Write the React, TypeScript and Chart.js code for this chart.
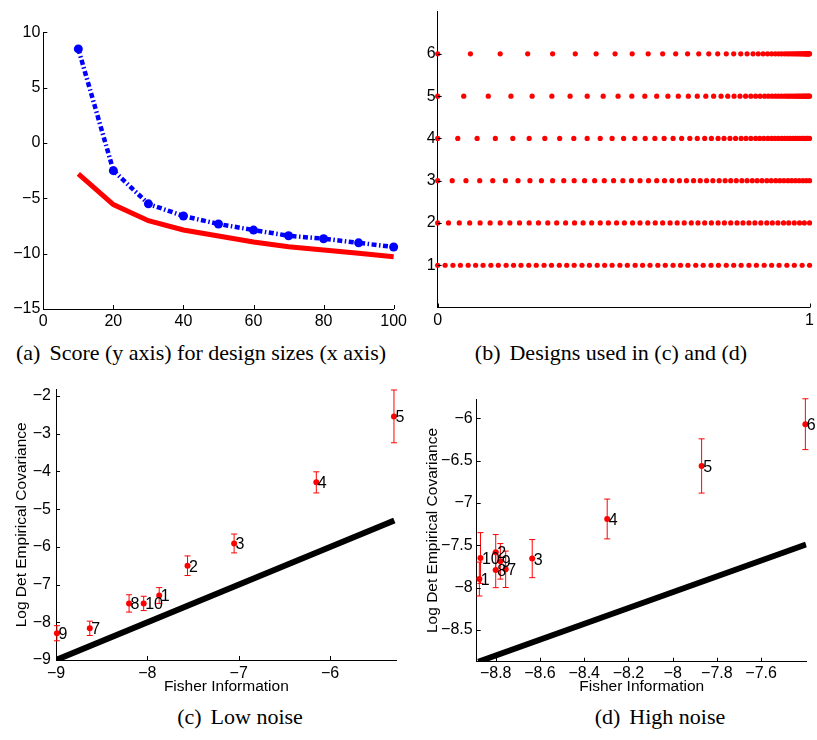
import React, { useEffect, useRef } from "react";
import { Chart, registerables } from "chart.js";

Chart.register(...registerables);

const SANS = "'Liberation Sans', Arial, Helvetica, sans-serif";
const SERIF = "'Liberation Serif', 'Times New Roman', Times, serif";

// ---------- Panel (a): score vs design size ----------
const designSizes = [10, 20, 30, 40, 50, 60, 70, 80, 90, 100];
const scoreBlue = [8.5, -2.5, -5.5, -6.6, -7.32, -7.87, -8.38, -8.65, -9.02, -9.4];
const scoreRed = [-2.8, -5.57, -7.02, -7.86, -8.4, -8.95, -9.37, -9.67, -9.97, -10.27];
const scoreXTicks = [0, 20, 40, 60, 80, 100];
const scoreYTicks = [-15, -10, -5, 0, 5, 10];

// ---------- Panel (b): designs ----------
const designRows = [1, 2, 3, 4, 5, 6];
const design1 = [0, 0.02, 0.041, 0.061, 0.082, 0.102, 0.122, 0.143, 0.163, 0.184, 0.204, 0.224, 0.245, 0.265, 0.286, 0.306, 0.327, 0.347, 0.367, 0.388, 0.408, 0.429, 0.449, 0.469, 0.49, 0.51, 0.531, 0.551, 0.571, 0.592, 0.612, 0.633, 0.653, 0.673, 0.694, 0.714, 0.735, 0.755, 0.776, 0.796, 0.816, 0.837, 0.857, 0.878, 0.898, 0.918, 0.939, 0.959, 0.98, 1];
const design2 = [0, 0.029, 0.058, 0.086, 0.114, 0.141, 0.168, 0.194, 0.22, 0.246, 0.271, 0.296, 0.32, 0.344, 0.368, 0.391, 0.414, 0.437, 0.459, 0.481, 0.502, 0.524, 0.544, 0.565, 0.585, 0.605, 0.625, 0.644, 0.663, 0.682, 0.7, 0.718, 0.736, 0.754, 0.771, 0.788, 0.805, 0.821, 0.837, 0.853, 0.869, 0.885, 0.9, 0.915, 0.93, 0.944, 0.959, 0.973, 0.986, 1];
const design3 = [0, 0.039, 0.076, 0.113, 0.148, 0.182, 0.216, 0.248, 0.279, 0.309, 0.339, 0.367, 0.395, 0.422, 0.448, 0.473, 0.498, 0.521, 0.544, 0.567, 0.589, 0.61, 0.63, 0.65, 0.669, 0.688, 0.706, 0.723, 0.74, 0.757, 0.773, 0.788, 0.803, 0.818, 0.832, 0.846, 0.859, 0.872, 0.885, 0.897, 0.909, 0.92, 0.931, 0.942, 0.952, 0.962, 0.972, 0.982, 0.991, 1];
const design4 = [0, 0.054, 0.106, 0.155, 0.202, 0.246, 0.288, 0.328, 0.366, 0.402, 0.437, 0.469, 0.5, 0.53, 0.558, 0.584, 0.609, 0.633, 0.656, 0.678, 0.698, 0.718, 0.736, 0.754, 0.77, 0.786, 0.801, 0.816, 0.829, 0.842, 0.855, 0.866, 0.877, 0.888, 0.898, 0.907, 0.916, 0.925, 0.933, 0.941, 0.948, 0.955, 0.962, 0.968, 0.974, 0.98, 0.985, 0.991, 0.995, 1];
const design5 = [0, 0.07, 0.136, 0.197, 0.254, 0.307, 0.356, 0.402, 0.445, 0.485, 0.522, 0.557, 0.589, 0.619, 0.647, 0.674, 0.698, 0.721, 0.742, 0.762, 0.78, 0.797, 0.813, 0.828, 0.842, 0.855, 0.867, 0.879, 0.889, 0.899, 0.908, 0.916, 0.924, 0.932, 0.939, 0.945, 0.951, 0.957, 0.962, 0.967, 0.971, 0.975, 0.979, 0.983, 0.986, 0.989, 0.992, 0.995, 0.998, 1];
const design6 = [0, 0.088, 0.168, 0.242, 0.309, 0.37, 0.426, 0.477, 0.523, 0.566, 0.605, 0.64, 0.672, 0.702, 0.729, 0.753, 0.776, 0.796, 0.815, 0.832, 0.848, 0.862, 0.875, 0.887, 0.898, 0.908, 0.917, 0.925, 0.933, 0.94, 0.946, 0.952, 0.957, 0.962, 0.966, 0.97, 0.974, 0.977, 0.98, 0.983, 0.985, 0.988, 0.99, 0.992, 0.993, 0.995, 0.996, 0.998, 0.999, 1];
const designXTicks = [0, 1];
const designYTicks = [1, 2, 3, 4, 5, 6];

// ---------- Panel (c): low noise ----------
const lowLabels = ["9", "7", "8", "10", "1", "2", "3", "4", "5"];
const lowFisher = [-8.99, -8.63, -8.2, -8.04, -7.87, -7.56, -7.05, -6.15, -5.3];
const lowCov = [-8.29, -8.16, -7.5, -7.5, -7.29, -6.5, -5.91, -4.29, -2.54];
const lowErr = [0.2, 0.19, 0.23, 0.19, 0.21, 0.26, 0.25, 0.28, 0.7];
const lowLineX = [-9, -5.296];
const lowLineY = [-9, -5.3];
const lowXTicks = [-9, -8, -7, -6];
const lowYTicks = [-9, -8, -7, -6, -5, -4, -3, -2];

// ---------- Panel (d): high noise ----------
const highLabels = ["1", "2", "3", "4", "5", "6", "7", "8", "9", "10"];
const highFisher = [-8.874, -8.8, -8.635, -8.296, -7.869, -7.4, -8.755, -8.8, -8.779, -8.869];
const highCov = [-7.898, -7.583, -7.657, -7.189, -6.563, -6.07, -7.783, -7.79, -7.689, -7.65];
const highErr = [0.2, 0.21, 0.225, 0.235, 0.32, 0.3, 0.215, 0.21, 0.21, 0.3];
const highLineX = [-8.879, -7.397];
const highLineY = [-8.874, -7.49];
const highXTicks = [-8.8, -8.6, -8.4, -8.2, -8, -7.8, -7.6];
const highYTicks = [-8.5, -8, -7.5, -7, -6.5, -6];

const fmt = (v: number) => (v < 0 ? "\u2212" + String(Math.abs(v)) : String(v));

type AxisOpt = {
  min: number;
  max: number;
  ticks: number[];
  size: number;
  pad: number;
  title?: string;
  titlePad?: number;
  horizontal: boolean;
};

function axis(o: AxisOpt) {
  const tickFont = { family: SANS, size: 16 };
  const titleFont = { family: SANS, size: 15.5 };
  return {
    type: "linear",
    position: o.horizontal ? "bottom" : "left",
    min: o.min,
    max: o.max,
    afterBuildTicks: (s: any) => {
      s.ticks = o.ticks.map((v) => ({ value: v }));
    },
    afterFit: (s: any) => {
      if (o.horizontal) s.height = o.size;
      else s.width = o.size;
    },
    ticks: {
      color: "#000",
      font: tickFont,
      padding: o.pad,
      autoSkip: false,
      maxRotation: 0,
      minRotation: 0,
      callback: (v: any) => fmt(Number(v)),
    },
    grid: { display: false, drawTicks: false },
    border: { display: true, color: "#000", width: 1 },
    title: o.title
      ? {
          display: true,
          text: o.title,
          color: "#000",
          font: titleFont,
          padding: o.horizontal ? { top: 0, bottom: o.titlePad ?? 0 } : { top: o.titlePad ?? 0, bottom: 0 },
        }
      : { display: false },
  };
}

function inwardTicks(len: number) {
  return {
    id: "inwardTicks",
    afterDraw(chart: any) {
      const { ctx, chartArea } = chart;
      const xs = chart.scales.x;
      const ys = chart.scales.y;
      ctx.save();
      ctx.strokeStyle = "#000";
      ctx.lineWidth = 1;
      ctx.beginPath();
      xs.ticks.forEach((t: any) => {
        const px = Math.round(xs.getPixelForValue(t.value)) + 0.5;
        ctx.moveTo(px, chartArea.bottom);
        ctx.lineTo(px, chartArea.bottom - len);
      });
      ys.ticks.forEach((t: any) => {
        const py = Math.round(ys.getPixelForValue(t.value)) + 0.5;
        ctx.moveTo(chartArea.left, py);
        ctx.lineTo(chartArea.left + len, py);
      });
      ctx.stroke();
      ctx.restore();
    },
  };
}

function errorAndLabels(xs: number[], ys: number[], errs: number[], labels: string[]) {
  return {
    id: "errorAndLabels",
    beforeDatasetsDraw(chart: any) {
      const { ctx } = chart;
      const sx = chart.scales.x;
      const sy = chart.scales.y;
      ctx.save();
      ctx.strokeStyle = "#ff0000";
      ctx.lineWidth = 1;
      ctx.beginPath();
      xs.forEach((x, i) => {
        const px = sx.getPixelForValue(x);
        const pTop = sy.getPixelForValue(ys[i] + errs[i]);
        const pBot = sy.getPixelForValue(ys[i] - errs[i]);
        ctx.moveTo(px, pTop);
        ctx.lineTo(px, pBot);
        ctx.moveTo(px - 3, pTop);
        ctx.lineTo(px + 3, pTop);
        ctx.moveTo(px - 3, pBot);
        ctx.lineTo(px + 3, pBot);
      });
      ctx.stroke();
      ctx.restore();
    },
    afterDatasetsDraw(chart: any) {
      const { ctx } = chart;
      const sx = chart.scales.x;
      const sy = chart.scales.y;
      ctx.save();
      ctx.fillStyle = "#000";
      ctx.font = `16px ${SANS}`;
      ctx.textAlign = "left";
      ctx.textBaseline = "middle";
      xs.forEach((x, i) => {
        ctx.fillText(labels[i], sx.getPixelForValue(x) + 1.5, sy.getPixelForValue(ys[i]) + 1.5);
      });
      ctx.restore();
    },
  };
}

const baseOptions = (padding: any) => ({
  responsive: false,
  maintainAspectRatio: false,
  animation: false,
  devicePixelRatio: 1,
  layout: { padding },
  plugins: { legend: { display: false }, tooltip: { enabled: false }, title: { display: false } },
  elements: { line: { tension: 0 } },
});

function configA() {
  return {
    type: "scatter",
    data: {
      datasets: [
        {
          data: designSizes.map((x, i) => ({ x, y: scoreRed[i] })),
          showLine: true,
          borderColor: "#ff0000",
          borderWidth: 5,
          pointRadius: 0,
          clip: false,
        },
        {
          data: designSizes.map((x, i) => ({ x, y: scoreBlue[i] })),
          showLine: true,
          borderColor: "#0000ff",
          borderWidth: 4.5,
          borderDash: [5, 2.5, 1.5, 2.5],
          pointRadius: 4.5,
          pointBorderWidth: 0,
          pointBackgroundColor: "#0000ff",
          pointBorderColor: "#0000ff",
          clip: false,
        },
      ],
    },
    options: {
      ...baseOptions({ left: 0, right: 15, top: 32.3, bottom: 0 }),
      scales: {
        x: axis({ min: 0, max: 100, ticks: scoreXTicks, size: 26, pad: 3, horizontal: true }),
        y: axis({ min: -15, max: 10, ticks: scoreYTicks, size: 43.3, pad: 3, horizontal: false }),
      },
    },
    plugins: [inwardTicks(4)],
  };
}

function configB() {
  const rows = [design1, design2, design3, design4, design5, design6];
  return {
    type: "scatter",
    data: {
      datasets: rows.map((row, k) => ({
        data: row.map((x) => ({ x, y: designRows[k] })),
        showLine: false,
        pointRadius: 2.6,
        pointBorderWidth: 0,
        pointBackgroundColor: "#ff0000",
        pointBorderColor: "#ff0000",
        clip: false,
      })),
    },
    options: {
      ...baseOptions({ left: 0, right: 2.7, top: 11, bottom: 0 }),
      scales: {
        x: axis({ min: 0, max: 1, ticks: designXTicks, size: 27.5, pad: 3, horizontal: true }),
        y: axis({ min: 0, max: 7, ticks: designYTicks, size: 27.7, pad: 2, horizontal: false }),
      },
    },
    plugins: [inwardTicks(4)],
  };
}

function configScatter(
  fx: number[], fy: number[], errs: number[], labels: string[],
  lx: number[], ly: number[],
  xr: [number, number], yr: [number, number], xt: number[], yt: number[],
  padding: any, xSize: number, ySize: number, xPad: number, yPad: number, yTitlePad: number
) {
  return {
    type: "scatter",
    data: {
      datasets: [
        {
          data: lx.map((x, i) => ({ x, y: ly[i] })),
          showLine: true,
          borderColor: "#000",
          borderWidth: 6,
          pointRadius: 0,
          borderCapStyle: "butt",
          clip: 0,
        },
        {
          data: fx.map((x, i) => ({ x, y: fy[i] })),
          showLine: false,
          pointRadius: 3,
          pointBorderWidth: 0,
          pointBackgroundColor: "#ff0000",
          pointBorderColor: "#ff0000",
          clip: false,
        },
      ],
    },
    options: {
      ...baseOptions(padding),
      scales: {
        x: axis({ min: xr[0], max: xr[1], ticks: xt, size: xSize, pad: xPad, horizontal: true, title: "Fisher Information", titlePad: 4 }),
        y: axis({ min: yr[0], max: yr[1], ticks: yt, size: ySize, pad: yPad, horizontal: false, title: "Log Det Empirical Covariance", titlePad: yTitlePad }),
      },
    },
    plugins: [inwardTicks(4), errorAndLabels(fx, fy, errs, labels)],
  };
}

function configC() {
  return configScatter(
    lowFisher, lowCov, lowErr, lowLabels, lowLineX, lowLineY,
    [-9, -5.27], [-9, -1.83], lowXTicks, lowYTicks,
    { left: 0, right: 13.3, top: 14.3, bottom: 0 }, 40, 56, 3.5, 5, 12.2
  );
}

function configD() {
  return configScatter(
    highFisher, highCov, highErr, highLabels, highLineX, highLineY,
    [-8.886, -7.394], [-8.874, -5.776], highXTicks, highYTicks,
    { left: 0, right: 10.3, top: 24.3, bottom: 0 }, 38.3, 66.7, 2, 4, 13.8
  );
}

type Box = { left: number; top: number; width: number; height: number };

function Panel({ box, make }: { box: Box; make: () => any }) {
  const ref = useRef<HTMLCanvasElement>(null);
  useEffect(() => {
    const chart = new Chart(ref.current as HTMLCanvasElement, make() as any);
    return () => chart.destroy();
  }, []);
  return (
    <canvas
      ref={ref}
      width={box.width}
      height={box.height}
      style={{ position: "absolute", left: box.left, top: box.top, width: box.width, height: box.height }}
    />
  );
}

function Caption({ cx, cy, label, text }: { cx: number; cy: number; label: string; text: string }) {
  return (
    <div
      style={{
        position: "absolute",
        left: cx - 250,
        width: 500,
        top: cy - 15,
        height: 30,
        lineHeight: "30px",
        textAlign: "center",
        fontFamily: SERIF,
        fontSize: 22,
        color: "#000",
        whiteSpace: "nowrap",
      }}
    >
      <span style={{ marginRight: 9 }}>{label}</span>
      {text}
    </div>
  );
}

export default function App() {
  return (
    <div style={{ position: "absolute", left: 0, top: 0, width: 817, height: 740, background: "#fff", overflow: "hidden" }}>
      <Panel box={{ left: 0, top: 0, width: 410, height: 335 }} make={configA} />
      <Panel box={{ left: 410, top: 0, width: 407, height: 335 }} make={configB} />
      <Panel box={{ left: 0, top: 375, width: 410, height: 325 }} make={configC} />
      <Panel box={{ left: 410, top: 375, width: 407, height: 325 }} make={configD} />
      <Caption cx={201} cy={353} label="(a)" text="Score (y axis) for design sizes (x axis)" />
      <Caption cx={611} cy={353} label="(b)" text="Designs used in (c) and (d)" />
      <Caption cx={240} cy={717} label="(c)" text="Low noise" />
      <Caption cx={660} cy={717} label="(d)" text="High noise" />
    </div>
  );
}
